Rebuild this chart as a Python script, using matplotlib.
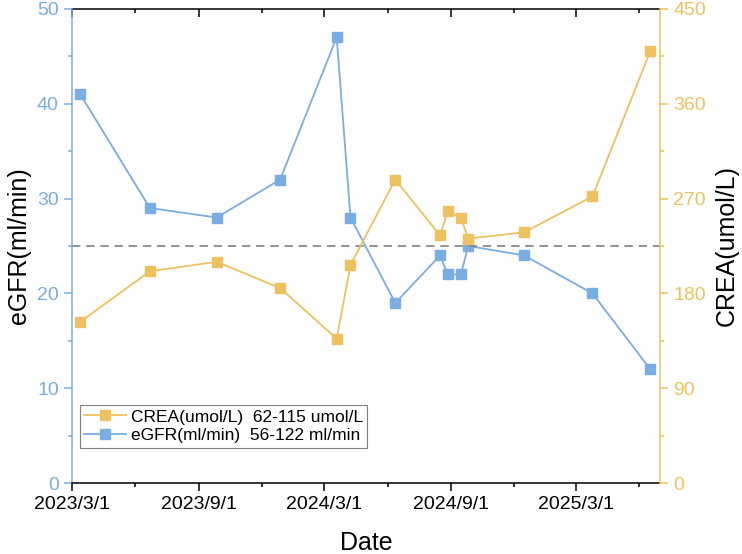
"""
eGFR / CREA 随访趋势图
"""

import numpy as np
import matplotlib.pyplot as plt
import matplotlib.dates as mdates
from matplotlib.ticker import MultipleLocator, FuncFormatter

plt.rcParams['font.family'] = ['Liberation Sans', 'DejaVu Sans']

# 检测日期
dates = np.array([
    '2023-03-13', '2023-06-22', '2023-09-27', '2023-12-28', '2024-03-19',
    '2024-04-08', '2024-06-12', '2024-08-16', '2024-08-27', '2024-09-15',
    '2024-09-26', '2024-12-16', '2025-03-25', '2025-06-17'], dtype='datetime64[D]')

# eGFR (ml/min)
egfr = [41, 29, 28, 32, 47, 28, 19, 24, 22, 22, 25, 24, 20, 12]

# 肌酐 CREA (umol/L)
crea = [153, 201, 210, 185, 137, 207, 288, 235, 258, 252, 232, 238, 272, 410]

egfr_ref = 25  # 参考虚线
label_crea = 'CREA(umol/L)  62-115 umol/L'
label_egfr = 'eGFR(ml/min)  56-122 ml/min'

blue = '#7aade2'
orange = '#edc160'

x = dates.astype('datetime64[D]').astype(object)

fig = plt.figure(figsize=(7.42, 5.54), dpi=100)
ax = fig.add_axes([0.097, 0.128, 0.7925, 0.856])
ax2 = ax.twinx()

# 曲线
l_egfr, = ax.plot(x, egfr, '-s', color=blue, lw=1.3, ms=7, label=label_egfr)
ax.axhline(egfr_ref, color='#808080', ls=(0, (5, 3.5)), lw=1.2)
l_crea, = ax2.plot(x, crea, '-s', color=orange, lw=1.3, ms=7, label=label_crea)

# 坐标范围
ax.set_xlim(np.datetime64('2023-03-01').astype(object),
            np.datetime64('2025-07-01').astype(object))
ax.set_ylim(0, 50)
ax2.set_ylim(0, 450)

# x 轴刻度
ax.xaxis.set_major_locator(mdates.MonthLocator(bymonth=[3, 9]))
ax.xaxis.set_minor_locator(mdates.MonthLocator(bymonth=[6, 12]))
ax.xaxis.set_major_formatter(FuncFormatter(
    lambda v, p: '{0.year}/{0.month}/{0.day}'.format(mdates.num2date(v))))

top = ax.secondary_xaxis('top')
top.xaxis.set_major_locator(mdates.MonthLocator(bymonth=[3, 9]))
top.xaxis.set_minor_locator(mdates.MonthLocator(bymonth=[6, 12]))
top.tick_params(which='both', direction='in', labeltop=False, width=1.1)
top.tick_params(which='major', length=6)
top.tick_params(which='minor', length=3)
top.spines['top'].set_linewidth(1.1)

# y 轴刻度
ax.yaxis.set_major_locator(MultipleLocator(10))
ax.yaxis.set_minor_locator(MultipleLocator(5))
ax2.yaxis.set_major_locator(MultipleLocator(90))
ax2.yaxis.set_minor_locator(MultipleLocator(45))

ax.tick_params(axis='x', which='both', direction='out', labelsize=14, width=1.1)
ax.tick_params(axis='x', which='major', length=6)
ax.tick_params(axis='x', which='minor', length=3)
ax.tick_params(axis='y', which='both', direction='out', colors=blue,
               labelsize=14, width=1.1)
ax.tick_params(axis='y', which='major', length=6)
ax.tick_params(axis='y', which='minor', length=3)
ax2.tick_params(axis='y', which='both', direction='out', colors=orange,
                labelsize=14, width=1.1)
ax2.tick_params(axis='y', which='major', length=6)
ax2.tick_params(axis='y', which='minor', length=3)

# 坐标轴线
for s in ax.spines.values():
    s.set_linewidth(1.1)
ax.spines['left'].set_color(blue)
ax.spines['right'].set_visible(False)
ax.spines['top'].set_visible(False)
for name in ['left', 'top', 'bottom']:
    ax2.spines[name].set_visible(False)
ax2.spines['right'].set_color(orange)
ax2.spines['right'].set_linewidth(1.1)

# 标签
ax.set_xlabel('Date', fontsize=18, labelpad=13)
ax.set_ylabel('eGFR(ml/min)', fontsize=18, labelpad=4)
ax2.set_ylabel('CREA(umol/L)', fontsize=18, labelpad=6)

leg = ax2.legend([l_crea, l_egfr], [label_crea, label_egfr],
                 loc='lower left', bbox_to_anchor=(0.013, 0.075),
                 fontsize=12.5, fancybox=False, edgecolor='#808080',
                 framealpha=1, borderpad=0.25, labelspacing=0.2,
                 handlelength=2.4, handletextpad=0.3, borderaxespad=0)
leg.get_frame().set_linewidth(0.8)

fig.savefig('out.png', dpi=100)
